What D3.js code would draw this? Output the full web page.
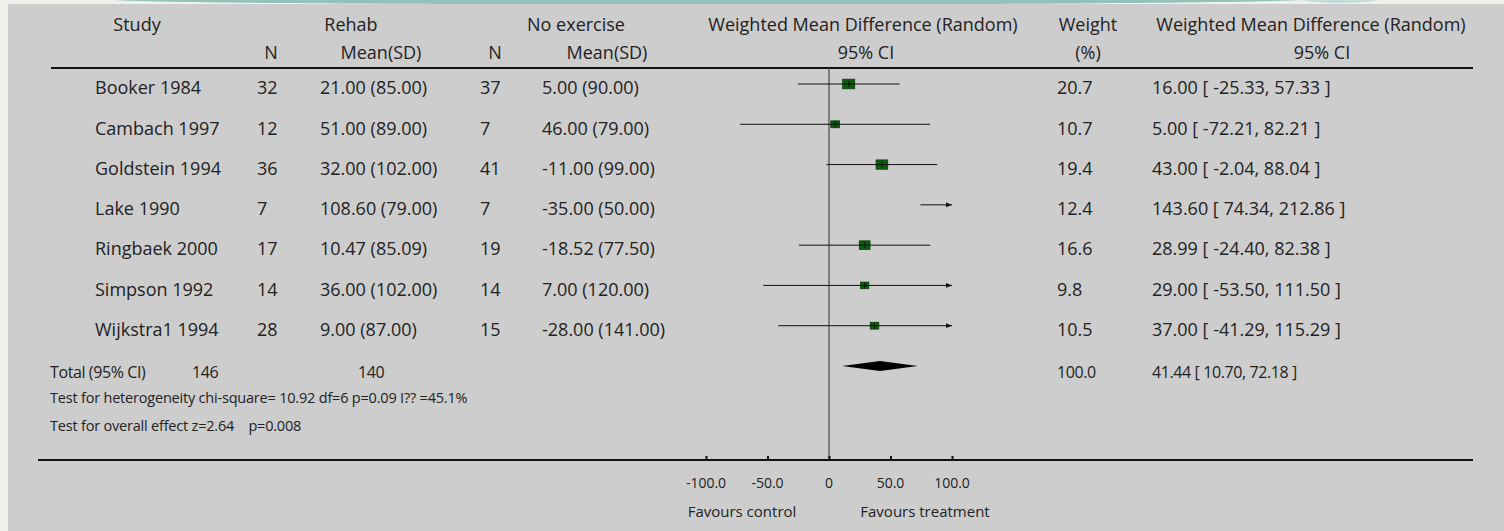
<!DOCTYPE html>
<html>
<head>
<meta charset="utf-8">
<script src="https://cdn.jsdelivr.net/npm/d3@7"></script>
<style>
  body { margin: 0; background: #f1f0ec; }
  svg text { font-family: "Open Sans", "Noto Sans", sans-serif; fill: #222; }
</style>
</head>
<body>
<div id="chart"></div>
<script>
// study rows
const studies = ["Booker 1984", "Cambach 1997", "Goldstein 1994", "Lake 1990", "Ringbaek 2000", "Simpson 1992", "Wijkstra1 1994"];
const rehabN = [32, 12, 36, 7, 17, 14, 28];
const rehabMean = [21.00, 51.00, 32.00, 108.60, 10.47, 36.00, 9.00];
const rehabSD = [85.00, 89.00, 102.00, 79.00, 85.09, 102.00, 87.00];
const ctrlN = [37, 7, 41, 7, 19, 14, 15];
const ctrlMean = [5.00, 46.00, -11.00, -35.00, -18.52, 7.00, -28.00];
const ctrlSD = [90.00, 79.00, 99.00, 50.00, 77.50, 120.00, 141.00];
const weights = [20.7, 10.7, 19.4, 12.4, 16.6, 9.8, 10.5];
const wmd = [16.00, 5.00, 43.00, 143.60, 28.99, 29.00, 37.00];
const ciLow = [-25.33, -72.21, -2.04, 74.34, -24.40, -53.50, -41.29];
const ciHigh = [57.33, 82.21, 88.04, 212.86, 82.38, 111.50, 115.29];

// pooled
const totalRehabN = 146;
const totalCtrlN = 140;
const totalWeight = 100.0;
const totalWmd = [41.44, 10.70, 72.18];
const testLines = [
    "Test for heterogeneity chi-square= 10.92 df=6 p=0.09 I?? =45.1%",
    "Test for overall effect z=2.64    p=0.008"
];

// axis
const tickValues = [-100, -50, 0, 50, 100];
const tickLabels = ["-100.0", "-50.0", "0", "50.0", "100.0"];
const axisLabels = ["Favours control", "Favours treatment"];

const width = 1504, height = 531;
const fs = 18;

const svg = d3.select('#chart').append('svg')
    .attr('width', width)
    .attr('height', height);

// page background + gray panel
svg.append('rect').attr('width', width).attr('height', height).attr('fill', '#f1f0ec');
svg.append('path')
    .attr('d', 'M115,0 C200,6 1200,6 1300,0 Z')
    .attr('fill', '#93c2b8');
svg.append('path')
    .attr('d', 'M1300,0 C1330,5 1360,3 1380,0 Z')
    .attr('fill', '#c4ddd8');
svg.append('rect')
    .attr('x', 8).attr('y', 4)
    .attr('width', width - 8).attr('height', height - 4)
    .attr('fill', '#cdcdcd');

const x = d3.scaleLinear().domain([-100, 100]).range([706, 952]);
const y = d3.scaleLinear().domain([0, 7]).range([84, 366]);
const size = d3.scaleSqrt().domain([0, 20.7]).range([0, 12]);
const loc = d3.formatLocale({ decimal: '.', thousands: ',', grouping: [3], currency: ['', ''], minus: '-' });
const f2 = loc.format('.2f');
const fmtCI = (m, l, h) => `${f2(m)} [ ${f2(l)}, ${f2(h)} ]`;

const g = svg.append('g');

function txt(xp, yp, s, anchor = 'start', size = fs, spacing = 0) {
    return g.append('text')
        .attr('x', xp).attr('y', yp)
        .attr('dy', '.35em')
        .attr('text-anchor', anchor)
        .attr('font-size', size)
        .attr('letter-spacing', spacing)
        .text(s);
}

// Headers
txt(137, 25, 'Study', 'middle');
txt(351, 25, 'Rehab', 'middle');
txt(576, 25, 'No exercise', 'middle');
txt(863, 25, 'Weighted Mean Difference (Random)', 'middle');
txt(1088, 25, 'Weight', 'middle');
txt(1311, 25, 'Weighted Mean Difference (Random)', 'middle');
txt(271, 53, 'N', 'middle');
txt(381, 53, 'Mean(SD)', 'middle');
txt(495, 53, 'N', 'middle');
txt(607, 53, 'Mean(SD)', 'middle');
txt(866, 53, '95% CI', 'middle');
txt(1088, 53, '(%)', 'middle');
txt(1322, 53, '95% CI', 'middle');

// rules
g.append('line').attr('x1', 51).attr('x2', 1473).attr('y1', 68).attr('y2', 68)
    .attr('stroke', '#111').attr('stroke-width', 2);
g.append('line').attr('x1', 38).attr('x2', 1473).attr('y1', 460).attr('y2', 460)
    .attr('stroke', '#111').attr('stroke-width', 2);

// zero line
g.append('line').attr('x1', x(0)).attr('x2', x(0)).attr('y1', 68).attr('y2', 460)
    .attr('stroke', '#555').attr('stroke-width', 1.3);

// table rows
studies.forEach((s, i) => {
    const yt = y(i) + 4;
    txt(95, yt, s);
    txt(257, yt, rehabN[i]);
    txt(320, yt, `${f2(rehabMean[i])} (${f2(rehabSD[i])})`);
    txt(480, yt, ctrlN[i]);
    txt(542, yt, `${f2(ctrlMean[i])} (${f2(ctrlSD[i])})`);
    txt(1057, yt, weights[i]);
    txt(1152, yt, fmtCI(wmd[i], ciLow[i], ciHigh[i]));
});

// arrow marker for clipped CIs
svg.append('defs').append('marker')
    .attr('id', 'arrow')
    .attr('viewBox', '0 0 10 10')
    .attr('refX', 10).attr('refY', 5)
    .attr('markerWidth', 6).attr('markerHeight', 6)
    .attr('markerUnits', 'userSpaceOnUse')
    .attr('orient', 'auto')
    .append('path').attr('d', 'M0,1 L10,5 L0,9 Z').attr('fill', '#111');

const [dmin, dmax] = x.domain();
const rows = studies.map((s, i) => ({ i, est: wmd[i], lo: ciLow[i], hi: ciHigh[i], w: weights[i] }));

const marks = g.selectAll('.study-mark').data(rows).join('g').attr('class', 'study-mark');

marks.filter(d => d.est >= dmin && d.est <= dmax)
    .append('rect')
    .attr('x', d => x(d.est) - size(d.w) / 2)
    .attr('y', d => y(d.i) - size(d.w) * 0.4)
    .attr('width', d => size(d.w))
    .attr('height', d => size(d.w) * 0.8)
    .attr('fill', '#0b5c0b')
    .attr('stroke', '#064006')
    .attr('stroke-width', 0.8);

marks.append('line')
    .attr('x1', d => x(Math.max(d.lo, dmin)))
    .attr('x2', d => x(Math.min(d.hi, dmax)))
    .attr('y1', d => y(d.i)).attr('y2', d => y(d.i))
    .attr('stroke', '#111').attr('stroke-width', 1)
    .attr('marker-end', d => d.hi > dmax ? 'url(#arrow)' : null);

marks.filter(d => d.est >= dmin && d.est <= dmax)
    .append('line')
    .attr('x1', d => x(d.est)).attr('x2', d => x(d.est))
    .attr('y1', d => y(d.i) - 3).attr('y2', d => y(d.i) + 3)
    .attr('stroke', '#111').attr('stroke-width', 1);

// total row
const yTot = y(7);
txt(50, yTot + 6, 'Total (95% CI)', 'start', 16, -0.4);
txt(192, yTot + 6, totalRehabN, 'start', 16, -0.4);
txt(358, yTot + 6, totalCtrlN, 'start', 16, -0.4);
txt(1057, yTot + 6, d3.format('.1f')(totalWeight), 'start', 16, -0.4);
txt(1152, yTot + 6, fmtCI(...totalWmd), 'start', 16, -0.4);

g.append('path')
    .attr('d', `M${x(totalWmd[1])},${yTot} L${x(totalWmd[0])},${yTot - 5} L${x(totalWmd[2])},${yTot} L${x(totalWmd[0])},${yTot + 5} Z`)
    .attr('fill', '#000');

testLines.forEach((t, k) => {
    txt(50, 398 + k * 28, t, 'start', 14.5, -0.2).style('white-space', 'pre');
});

// axis
const axis = d3.axisTop(x)
    .tickValues(tickValues)
    .tickSize(4)
    .tickFormat('');
const axisG = g.append('g')
    .attr('transform', 'translate(0,460)')
    .call(axis);
axisG.select('.domain').remove();
axisG.selectAll('.tick line').attr('stroke', '#111').attr('stroke-width', 2);

g.selectAll('.tick-label')
    .data(tickValues)
    .join('text')
    .attr('class', 'tick-label')
    .attr('x', d => x(d))
    .attr('y', 483)
    .attr('dy', '.35em')
    .attr('text-anchor', 'middle')
    .attr('font-size', 14)
    .text((d, i) => tickLabels[i]);

g.selectAll('.favours')
    .data(axisLabels)
    .join('text')
    .attr('class', 'favours')
    .attr('x', (d, i) => i === 0 ? 742 : 925)
    .attr('y', 512)
    .attr('dy', '.35em')
    .attr('text-anchor', 'middle')
    .attr('font-size', 15)
    .text(d => d);
</script>
</body>
</html>
